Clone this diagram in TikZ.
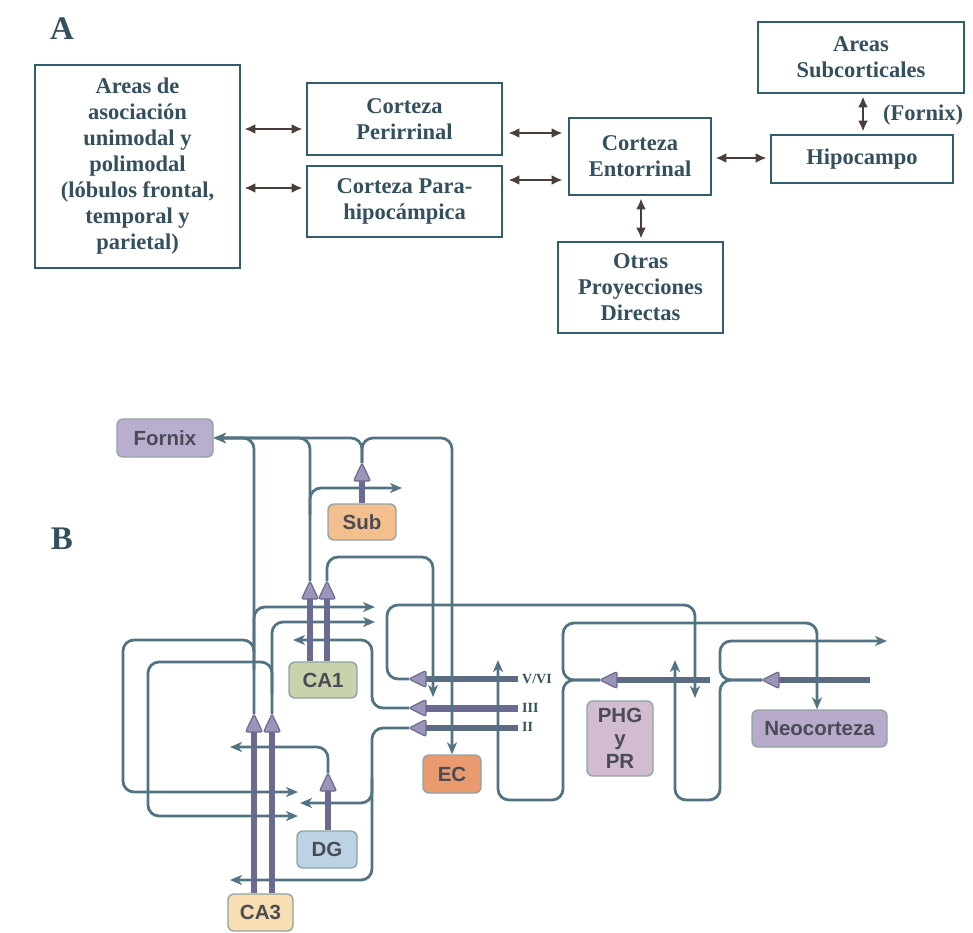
\documentclass[tikz,border=0pt]{standalone}
\usepackage{fontspec}
\setmainfont{Liberation Serif}
\newfontfamily\sansB{Liberation Sans}
\usetikzlibrary{arrows.meta}
\definecolor{boxA}{HTML}{2F5F6E}
\definecolor{txtA}{HTML}{34505E}
\definecolor{arrA}{HTML}{4A3E3A}
\definecolor{lnB}{HTML}{527482}
\definecolor{thkP}{HTML}{6B6A92}
\definecolor{thkG}{HTML}{5C6B84}
\definecolor{triF}{HTML}{9C95BA}
\definecolor{bdB}{HTML}{8FA3A3}
\definecolor{txtB}{HTML}{4B4B55}
\definecolor{fFornix}{HTML}{B9AED0}
\definecolor{fSub}{HTML}{F3BF8E}
\definecolor{fCAone}{HTML}{C8D3AE}
\definecolor{fCAthree}{HTML}{F7DFB2}
\definecolor{fDG}{HTML}{BCD3E3}
\definecolor{fEC}{HTML}{E99A6E}
\definecolor{fPHG}{HTML}{D2BDD0}
\definecolor{fNeo}{HTML}{B8AACB}
\newcommand\somaUp[2]{\filldraw[soma] (#1-8.5,#2+18) -- (#1,#2) -- (#1+8.5,#2+18) -- cycle;}
\newcommand\somaLeft[2]{\filldraw[soma] (#1+17,#2-8.5) -- (#1,#2) -- (#1+17,#2+8.5) -- cycle;}
\begin{document}
\begin{tikzpicture}[x=1pt,y=-1pt,
  bA/.style={draw=boxA,line width=2.8pt,fill=white,text=txtA,align=center,
     font=\fontsize{22.5}{26}\selectfont\bfseries,inner sep=2pt},
  arA/.style={draw=arrA,line width=2.2pt,{Latex[length=11pt,width=10pt]}-{Latex[length=11pt,width=10pt]}},
  bB/.style={draw=bdB,line width=1.4pt,rounded corners=6pt,text=txtB,align=center,
     font=\fontsize{20.5}{23}\selectfont\sansB\bfseries,inner sep=1pt},
  ln/.style={draw=lnB,line width=2.8pt,rounded corners=11pt},
  la/.style={ln,-{Stealth[length=12pt,width=10pt,inset=3.5pt]}},
  thP/.style={draw=thkP,line width=5.5pt},
  thG/.style={draw=thkG,line width=5.5pt},
  soma/.style={fill=triF,draw=thkP,line width=1.2pt,rounded corners=2pt},
  lay/.style={font=\fontsize{14}{14}\selectfont\bfseries,text=txtA,anchor=west,inner sep=0pt}
]
\path[use as bounding box] (0,0) rectangle (973,932);

% ---------------- Part A ----------------
\node[font=\fontsize{33}{33}\selectfont\bfseries,text=txtA] (labA) at (62,29) {A};
\node[bA,minimum width=205pt,minimum height=203pt] (areas) at (137.5,166.5)
  {Areas de\\asociación\\unimodal y\\polimodal\\(lóbulos frontal,\\temporal y\\parietal)};
\node[bA,minimum width=195pt,minimum height=72pt] (peri) at (404.5,119) {Corteza\\Perirrinal};
\node[bA,minimum width=195pt,minimum height=71pt] (para) at (404.5,201.5) {Corteza Para-\\hipocámpica};
\node[bA,minimum width=142pt,minimum height=77pt] (ento) at (640,156.5) {Corteza\\Entorrinal};
\node[bA,minimum width=182pt,minimum height=48pt] (hipo) at (862,159) {Hipocampo};
\node[bA,minimum width=206pt,minimum height=71pt] (subc) at (861,57.5) {Areas\\Subcorticales};
\node[bA,minimum width=165pt,minimum height=91pt] (otras) at (640.5,287.5) {Otras\\Proyecciones\\Directas};
\node[font=\fontsize{22.5}{26}\selectfont\bfseries,text=txtA] (fornixlab) at (923,115) {(Fornix)};

\draw[arA,shorten <=3pt,shorten >=3pt] (areas.east |- 0,129) -- (peri.west |- 0,129);
\draw[arA,shorten <=3pt,shorten >=3pt] (areas.east |- 0,188) -- (para.west |- 0,188);
\draw[arA,shorten <=5pt,shorten >=5pt] (peri.east |- 0,133) -- (ento.west |- 0,133);
\draw[arA,shorten <=5pt,shorten >=5pt] (para.east |- 0,180) -- (ento.west |- 0,180);
\draw[arA,shorten <=3pt,shorten >=3pt] (ento.east |- 0,158) -- (hipo.west |- 0,158);
\draw[arA,shorten <=2pt,shorten >=2pt] (subc.south -| 863,0) -- (hipo.north -| 863,0);
\draw[arA,shorten <=2pt,shorten >=2pt] (ento.south -| 641,0) -- (otras.north -| 641,0);

% ---------------- Part B ----------------
\node[font=\fontsize{33}{33}\selectfont\bfseries,text=txtA] (labB) at (62,539) {B};

\node[bB,fill=fFornix,minimum width=96pt,minimum height=38pt] (fornix) at (165,438) {Fornix};
\node[bB,fill=fSub,minimum width=68pt,minimum height=36pt] (sub) at (362,522) {Sub};
\node[bB,fill=fCAone,minimum width=68pt,minimum height=36pt] (ca1) at (323,680) {CA1};
\node[bB,fill=fCAthree,minimum width=65pt,minimum height=37pt] (ca3) at (260.5,912.5) {CA3};
\node[bB,fill=fDG,minimum width=60pt,minimum height=37pt] (dg) at (327,849.5) {DG};
\node[bB,fill=fEC,minimum width=58pt,minimum height=38pt] (ec) at (452,774) {EC};
\node[bB,fill=fPHG,minimum width=66pt,minimum height=75pt] (phg) at (620,738.5) {PHG\\y\\PR};
\node[bB,fill=fNeo,minimum width=135pt,minimum height=37pt] (neo) at (819.5,728.5) {Neocorteza};

% soma apex coordinates
\coordinate (ca3a) at (254,714);
\coordinate (ca3b) at (272,714);
\coordinate (ca1a) at (310,581);
\coordinate (ca1b) at (327,581);
\coordinate (subt) at (362,463);
\coordinate (dgt) at (328,773);
\coordinate (ec5) at (409,679);
\coordinate (ec3) at (409,708);
\coordinate (ec2) at (409,728);
\coordinate (phgt) at (600,680);
\coordinate (neot) at (762,680);

% EC layer trunks (under crossing fibres)
\draw[thG] (518,679) -- (422,679);
\draw[thP,line width=7pt] (518,708) -- (422,708);
\draw[thG] (518,728) -- (422,728);
\node[lay] (l56) at (522,679) {V/VI};
\node[lay] (l3) at (522,708) {III};
\node[lay] (l2) at (522,727) {II};

% PHG / neocortex trunks
\draw[thG] (710,680) -- (614,680);
\draw[thG] (870,680) -- (776,680);

% thin fibres
% CA3
\draw[la] (ca3a) -- (254,438) -- (fornix.east);
\draw[la] (254,652) -- (254,607) -- (375,607);
\draw[la] (254,670) -- (254,640) -- (123,640) -- (123,792) -- (298,792);
\draw[la] (ca3b) -- (272,622) -- (375,622);
\draw[la] (272,694) -- (272,662) -- (148,662) -- (148,816) -- (298,816);
% CA1
\draw[la] (ca1a) -- (310,438) -- (fornix.east);
\draw[la] (310,515) -- (310,488) -- (402,488);
\draw[la] (ca1b) -- (327,557) -- (433,557) -- (433,697);
% Sub
\draw[la] (subt) -- (362,438) -- (fornix.east);
\draw[la] (subt) -- (362,438) -- (452,438) -- (ec.north);
% DG
\draw[la] (dgt) -- (328,747) -- (230,747);
% EC
\draw[la] (ec5) -- (387,679) -- (387,605) -- (695,605) -- (695,698);
\draw[la] (ec3) -- (372,708) -- (372,640) -- (293,640);
\draw[la] (ec2) -- (372,728) -- (372,880) -- (230,880);
\draw[la] (372,778) -- (372,803) -- (300,803);
% PHG
\draw[la] (phgt) -- (563,680) -- (563,623) -- (817,623) -- (neo.north -| 817,0);
\draw[la] (phgt) -- (563,680) -- (563,800) -- (498,800) -- (498,660);
% Neocortex
\draw[la] (neot) -- (720,680) -- (720,641) -- (887,641);
\draw[la] (neot) -- (720,680) -- (720,800) -- (675,800) -- (675,660);

% cell trunks
\draw[thP] (ca3.north -| ca3a) -- (254,728);
\draw[thP] (ca3.north -| ca3b) -- (272,728);
\draw[thP] (ca1.north -| ca1a) -- (310,595);
\draw[thP] (ca1.north -| ca1b) -- (327,595);
\draw[thP] (sub.north) -- (362,477);
\draw[thP] (dg.north -| dgt) -- (328,787);

% somata
\somaUp{254}{714}
\somaUp{272}{714}
\somaUp{310}{581}
\somaUp{327}{581}
\somaUp{362}{463}
\somaUp{328}{773}
\somaLeft{409}{679}
\somaLeft{409}{708}
\somaLeft{409}{728}
\somaLeft{600}{680}
\somaLeft{762}{680}
\end{tikzpicture}
\end{document}
